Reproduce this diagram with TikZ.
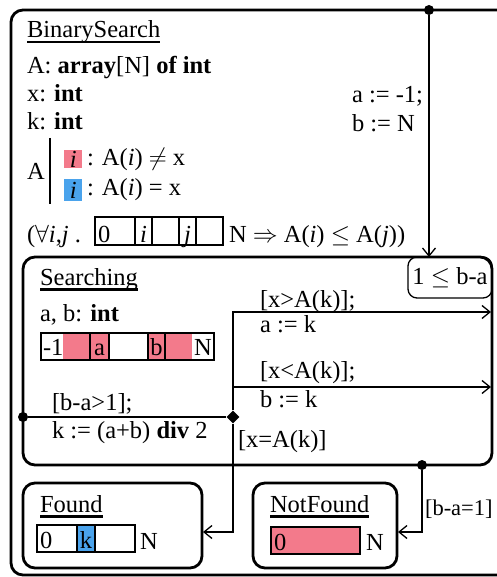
\documentclass[tikz,border=0pt]{standalone}
\usepackage{fontspec}
\setmainfont{Liberation Serif}
\usetikzlibrary{arrows.meta,shapes.geometric}
\definecolor{pk}{HTML}{F37A8B}
\definecolor{bl}{HTML}{4AA3EC}
\newcommand\myul[1]{\setbox0\hbox{#1}\rlap{\rule[-5.5pt]{\wd0}{2.5pt}}\box0}
\begin{document}
\begin{tikzpicture}[x=1pt,y=-1pt,font=\fontsize{24.5}{29}\selectfont,
  state/.style={draw,line width=2.8,rounded corners=12,inner sep=0,outer sep=0},
  tr/.style={line width=1.3,-{Straight Barb[length=8,width=13]}},
  ln/.style={line width=1.3},
  cellst/.style={draw,line width=1.2},
  txt/.style={inner sep=0,outer sep=0,anchor=base west},
  ctxt/.style={inner sep=0,outer sep=0,anchor=base},
  dot/.style={circle,fill,inner sep=0,minimum size=10},
]
\useasboundingbox (0,0) rectangle (496,577);
% outer state
\draw[line width=2.8,rounded corners=12] (510,575) -- (11,575) -- (11,10) -- (510,10);
\node[txt] (tBS) at (27,38) {\myul{BinarySearch}};
\node[txt] (tA) at (27,74) {A: \textbf{array}[N] \textbf{of int}};
\node[txt] (tX) at (27,102) {x: \textbf{int}};
\node[txt] (tK) at (27,130) {k: \textbf{int}};
\node[txt] (tA2) at (27,180) {A};
\draw[ln] (50,138) -- (50,204);
\node[fill=pk,inner sep=0,minimum width=18,minimum height=18,anchor=north west] (pki) at (64,150) {\textit{i}};
\node[txt] (neq) at (87,166) {: A(\textit{i}) $\neq$ x};
\node[fill=bl,inner sep=0,minimum width=18,minimum height=22,anchor=north west] (bli) at (64,179) {\textit{i}};
\node[txt] (eq) at (87,196) {: A(\textit{i}) = x};
\node[txt] (fa) at (27,242) {($\forall$\textit{i},\textit{j} .};
\draw[cellst] (95,217) rectangle (223,245);
\foreach \xx in {135,152,179,196} \draw[cellst] (\xx,217) -- (\xx,245);
\node[txt] (c0) at (98,242) {0};
\node[ctxt] (ci) at (143.5,242) {\textit{i}};
\node[ctxt] (cj) at (187.5,242) {\textit{j}};
\node[txt] (imp) at (229,242) {N $\Rightarrow$ A(\textit{i}) $\le$ A(\textit{j}))};
\node[txt] (ia) at (352,103) {a := -1;};
\node[txt] (ib) at (352,132) {b := N};
% states
\node[state,minimum width=469,minimum height=208] (searching) at (257.5,361) {};
\node[state,minimum width=179,minimum height=85] (found) at (112.5,525.5) {};
\node[state,minimum width=144,minimum height=85] (notfound) at (325,525.5) {};
% Searching contents
\node[draw,line width=1.3,rounded corners=9,inner sep=0,minimum width=84,minimum height=41] (inv) at (450,277.5) {1 $\le$ b-a};
\node[txt] (tS) at (40,285) {\myul{Searching}};
\node[txt] (tab) at (40,321) {a, b: \textbf{int}};
\fill[pk] (63,333) rectangle (192,360);
\fill[white] (109,333) rectangle (148,360);
\draw[cellst] (41,333) rectangle (214,360);
\foreach \xx in {90,109,148,165} \draw[cellst] (\xx,333) -- (\xx,360);
\node[txt] (cm1) at (43,355) {-1};
\node[ctxt] (ca) at (99.5,355) {a};
\node[ctxt] (cb) at (156.5,355) {b};
\node[txt] (cN) at (194,355) {N};
% Found contents
\node[txt] (tF) at (40,512) {\myul{Found}};
\fill[bl] (77,525) rectangle (95,552);
\draw[cellst] (37,525) rectangle (135,552);
\foreach \xx in {77,95} \draw[cellst] (\xx,525) -- (\xx,552);
\node[txt] (f0) at (40,548) {0};
\node[ctxt] (fk) at (86,548) {k};
\node[txt] (fN) at (140,549) {N};
% NotFound contents
\node[txt] (tNF) at (270,512) {\myul{NotFound}};
\draw[cellst,fill=pk] (271,527) rectangle (360,554);
\node[txt] (n0) at (274,550) {0};
\node[txt] (nN) at (366,550) {N};
% pseudo-states
\node[dot] (idot) at (429,10) {};
\node[dot] (ldot) at (23,417) {};
\node[dot] (bdot) at (422,465) {};
\node[diamond,fill,inner sep=0,minimum size=13] (dia) at (233,417) {};
\coordinate (sn) at (429,257);
\coordinate (r1) at (491,312);
\coordinate (r2) at (491,387);
\coordinate (fe) at (203,532);
\coordinate (ne) at (398,532);
% transitions
\draw[tr] (idot) -- (sn);
\draw[ln] (ldot) -- (dia);
\draw[tr] (dia) |- (r1);
\draw[tr] (dia) |- (r2);
\draw[tr] (dia) |- (fe);
\draw[tr] (bdot) |- (ne);
% labels
\node[txt] (l1) at (52,410) {[b-a>1];};
\node[txt] (l2) at (52,438) {k := (a+b) \textbf{div} 2};
\node[txt] (l3) at (260,307) {[x>A(k)];};
\node[txt] (l4) at (260,332) {a := k};
\node[txt] (l5) at (260,378) {[x<A(k)];};
\node[txt] (l6) at (260,407) {b := k};
\node[txt] (l7) at (238,447) {[x=A(k)]};
\node[txt,font=\fontsize{22.5}{27}\selectfont] (l8) at (425,515) {[b-a=1]};
\end{tikzpicture}
\end{document}
